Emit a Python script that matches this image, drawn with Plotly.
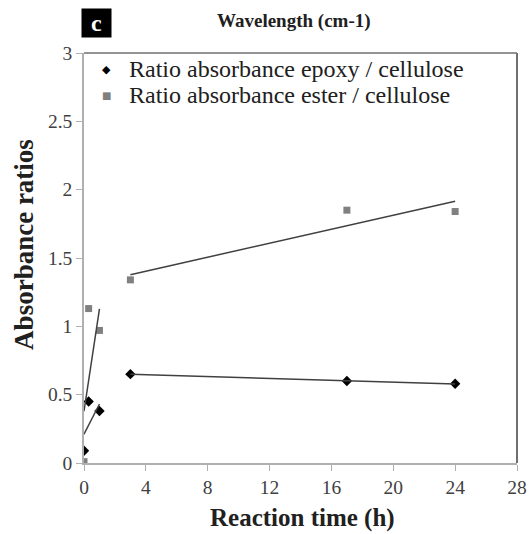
import numpy as np
import plotly.graph_objects as go

# Data
time_h = [0, 0.3, 1, 3, 17, 24]
epoxy = [0.09, 0.45, 0.38, 0.65, 0.60, 0.58]
ester = [0.01, 1.13, 0.97, 1.34, 1.85, 1.84]
early_idx = [0, 1, 2]
late_idx = [3, 4, 5]
x_ticks = [0, 4, 8, 12, 16, 20, 24, 28]
y_ticks = [0, 0.5, 1, 1.5, 2, 2.5, 3]
y_ticklabels = ["0", "0.5", "1", "1.5", "2", "2.5", "3"]
series_names = ["Ratio absorbance epoxy / cellulose", "Ratio absorbance ester / cellulose"]

SERIF = "Liberation Serif, Times New Roman, serif"
DARK = "#202020"

fig = go.Figure()

fig.add_trace(go.Scatter(x=time_h, y=epoxy, mode="markers", name=series_names[0],
                         showlegend=False,
                         marker=dict(symbol="diamond", size=8, color="black")))
fig.add_trace(go.Scatter(x=time_h, y=ester, mode="markers", name=series_names[1],
                         showlegend=False,
                         marker=dict(symbol="square", size=7, color="#808080")))

# Linear trend lines fitted on each segment
for series in (epoxy, ester):
    for idx in (early_idx, late_idx):
        xs = np.array([time_h[i] for i in idx])
        ys = np.array([series[i] for i in idx])
        k, b = np.polyfit(xs, ys, 1)
        xl = np.array([0.0, 1.0]) if idx is early_idx else np.array([xs.min(), xs.max()])
        fig.add_trace(go.Scatter(x=xl, y=k * xl + b, mode="lines", showlegend=False,
                                 line=dict(color="#404040", width=1.5), hoverinfo="skip"))

fig.update_layout(
    width=529, height=534,
    margin=dict(l=84, r=12, t=53, b=71, autoexpand=False),
    paper_bgcolor="white", plot_bgcolor="white",
    font=dict(family=SERIF, color="#404040", size=19.5),
    showlegend=False,
    xaxis=dict(range=[0, 28], tickvals=x_ticks, ticktext=[str(v) for v in x_ticks],
               showgrid=False, zeroline=False, showline=True, linecolor="#b0b0b0",
               linewidth=1.5, ticks="outside", tickcolor="#b0b0b0", ticklen=6,
               automargin=False),
    yaxis=dict(range=[0, 3], tickvals=y_ticks, ticktext=y_ticklabels,
               showgrid=False, zeroline=False, showline=True, linecolor="#b0b0b0",
               linewidth=1.5, ticks="outside", tickcolor="#b0b0b0", ticklen=6,
               automargin=False),
)

# Box top/right border
fig.add_shape(type="line", xref="paper", yref="paper", x0=0, x1=1, y0=1, y1=1,
              line=dict(color="#707070", width=1.5))
fig.add_shape(type="line", xref="paper", yref="paper", x0=1, x1=1, y0=0, y1=1,
              line=dict(color="#707070", width=2))

# Axis titles
fig.add_annotation(text="<b>Reaction time (h)</b>", xref="paper", yref="paper",
                   x=0.5, y=0, xshift=2, yshift=-55, yanchor="middle", showarrow=False,
                   font=dict(family=SERIF, size=25, color=DARK))
fig.add_annotation(text="<b>Absorbance ratios</b>", xref="paper", yref="paper",
                   x=0, y=0.532, xshift=-60, xanchor="center", yanchor="middle",
                   textangle=-90, showarrow=False,
                   font=dict(family=SERIF, size=27, color=DARK))

# Legend (inside the plot, top-left)
legend_glyphs = [("\u25C6", "black", 11), ("\u25A0", "#808080", 10)]
for i, (name, (glyph, col, gsize)) in enumerate(zip(series_names, legend_glyphs)):
    ys = -16 - 26 * i
    fig.add_annotation(text=glyph, xref="paper", yref="paper", x=0, y=1,
                       xshift=22, yshift=ys, xanchor="center", yanchor="middle",
                       showarrow=False, font=dict(family="DejaVu Sans", size=gsize, color=col))
    fig.add_annotation(text=name, xref="paper", yref="paper", x=0, y=1,
                       xshift=43, yshift=ys, xanchor="left", yanchor="middle",
                       showarrow=False, font=dict(family=SERIF, size=24, color=DARK))

# Panel title and label
fig.add_annotation(text="<b>Wavelength (cm-1)</b>", xref="paper", yref="paper",
                   x=0.485, y=1.0, yshift=32, yanchor="middle", showarrow=False,
                   font=dict(family=SERIF, size=19, color=DARK))
fig.add_annotation(text="<b>c</b>", xref="paper", yref="paper",
                   x=0, y=1.0, xshift=12, yshift=30, xanchor="center", yanchor="middle",
                   showarrow=False, bgcolor="black", width=27, height=26,
                   font=dict(family=SERIF, size=24, color="white"))

fig.write_html("out.html", post_script="document.body.style.margin='0px';",
               config={"displayModeBar": False})
